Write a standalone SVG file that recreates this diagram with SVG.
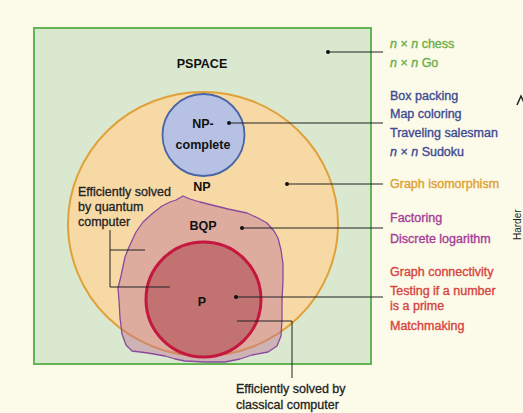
<svg xmlns="http://www.w3.org/2000/svg" width="523" height="413" viewBox="0 0 523 413">
<style>
text{font-family:"Liberation Sans",Arial,sans-serif}
.lbl{font-size:12.5px;stroke-width:0.35}
.cls{font-size:12.5px;font-weight:bold;fill:#111;text-anchor:middle}
.note{font-size:12.5px;fill:#222;stroke:#222;stroke-width:0.3}
.lead{stroke:#222;stroke-width:1;fill:none}
.dot{fill:#111}
.g{fill:#6aae4a;stroke:#6aae4a}.b{fill:#3e4b93;stroke:#3e4b93}.o{fill:#e0a030;stroke:#e0a030}.pu{fill:#a53d98;stroke:#a53d98}.r{fill:#d7443f;stroke:#d7443f}
</style>
<rect width="523" height="413" fill="#fcfae8"/>
<g id="pspace">
<rect x="34" y="28" width="337" height="336" fill="#d9e8cf" stroke="#62b553" stroke-width="2"/>
<text class="cls" x="202" y="68">PSPACE</text>
</g>
<g id="np">
<ellipse cx="203" cy="224" rx="135" ry="132" fill="#f7d9a6" stroke="#e0a13a" stroke-width="2"/>
<text class="cls" x="202" y="191">NP</text>
</g>
<g id="npcomplete">
<circle cx="203.5" cy="135" r="41" fill="#b6c1e3" stroke="#4866a6" stroke-width="1.8"/>
<text class="cls" x="203" y="128" font-size="14">NP-</text>
<text class="cls" x="203" y="149" font-size="14">complete</text>
</g>
<g id="bqp">
<polygon points="176,200 183,196 190,199 200,202 212,205 228,209 247,213 258,218 267,223 274,231 278,238 281,250 283,264 283,280 282,300 282,320 281,336 277,346 268,352 252,355 240,359 225,362 205,362 185,361 175,359 165,356 148,353 132,351 126,345 122,334 120,318 119,300 118,288 121,276 125,257 129,247 136,232 143,222 153,213 162,206 170,202" fill="#be7396" fill-opacity="0.45" stroke="#8a4a9c" stroke-width="1.3" stroke-linejoin="round"/>
<text class="cls" x="203" y="230">BQP</text>
</g>
<g id="p">
<circle cx="203.5" cy="299.5" r="57.5" fill="#c17271" stroke="#c5183f" stroke-width="3"/>
<text class="cls" x="202" y="306">P</text>
</g>
<g id="connectors">
<line class="lead" x1="328" y1="52" x2="383" y2="52"/><circle class="dot" cx="328" cy="52" r="2"/>
<line class="lead" x1="229" y1="123" x2="383" y2="123"/><circle class="dot" cx="229" cy="123" r="2"/>
<line class="lead" x1="287" y1="184" x2="383" y2="184"/><circle class="dot" cx="287" cy="184" r="2"/>
<line class="lead" x1="242" y1="228" x2="383" y2="228"/><circle class="dot" cx="242" cy="228" r="2"/>
<line class="lead" x1="236" y1="297" x2="383" y2="297"/><circle class="dot" cx="236" cy="297" r="2"/>
<path class="lead" d="M110 230V287H170M110 250H145"/>
<path class="lead" d="M237 321H292V378"/>
</g>
<g id="labels-left">
<text class="note" x="78" y="196">Efficiently solved</text>
<text class="note" x="78" y="211">by quantum</text>
<text class="note" x="78" y="226">computer</text>
<text class="note" x="236" y="393">Efficiently solved by</text>
<text class="note" x="236" y="409">classical computer</text>
</g>
<g id="labels-right" class="lbl">
<text class="g" x="390" y="48"><tspan font-style="italic">n</tspan> × <tspan font-style="italic">n</tspan> chess</text>
<text class="g" x="390" y="67"><tspan font-style="italic">n</tspan> × <tspan font-style="italic">n</tspan> Go</text>
<text class="b" x="390" y="100">Box packing</text>
<text class="b" x="390" y="118">Map coloring</text>
<text class="b" x="390" y="137">Traveling salesman</text>
<text class="b" x="390" y="156"><tspan font-style="italic">n</tspan> × <tspan font-style="italic">n</tspan> Sudoku</text>
<text class="o" x="390" y="188">Graph isomorphism</text>
<text class="pu" x="390" y="222">Factoring</text>
<text class="pu" x="390" y="243">Discrete logarithm</text>
<text class="r" x="390" y="276">Graph connectivity</text>
<text class="r" x="390" y="295">Testing if a number</text>
<text class="r" x="390" y="310">is a prime</text>
<text class="r" x="390" y="330">Matchmaking</text>
</g>
<g id="harder">
<polyline points="517,105 521,96 525,105" fill="none" stroke="#222" stroke-width="1.5"/>
<text x="521" y="240" transform="rotate(-90 521 240)" font-size="10" fill="#222">Harder</text>
</g>
</svg>
